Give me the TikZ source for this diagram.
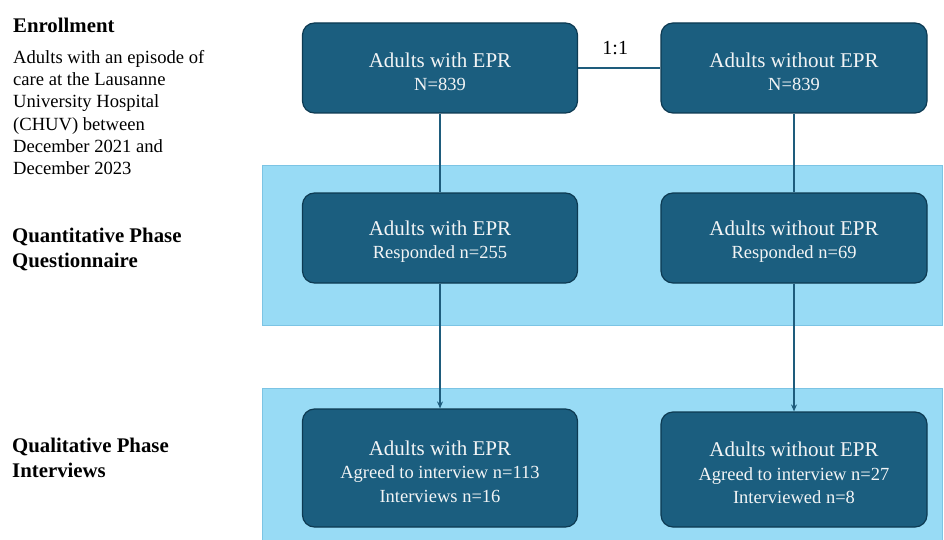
\documentclass[tikz,border=0pt]{standalone}
\usepackage{fontspec}
\setmainfont{Liberation Serif}
\usetikzlibrary{arrows.meta}
\definecolor{boxfill}{HTML}{1B5E7F}
\definecolor{boxline}{HTML}{0D3A52}
\definecolor{bandfill}{HTML}{98DBF5}
\definecolor{bandline}{HTML}{7CC4E4}
\definecolor{conn}{HTML}{1E5C7C}
\definecolor{boxtext}{HTML}{F2F4F5}
\newcommand{\ttl}[1]{\rule{0pt}{22pt}{\fontsize{21}{23}\selectfont #1}}
\begin{document}
\begin{tikzpicture}[x=1pt,y=-1pt,
  band/.style={fill=bandfill,draw=bandline,line width=1pt},
  flowbox/.style={rectangle,rounded corners=12pt,fill=boxfill,draw=boxline,line width=1.2pt,
    text=boxtext,align=center,inner sep=0pt,font=\fontsize{18.5}{23.5}\selectfont},
  wbox/.style={flowbox,minimum width=275pt},
  nbox/.style={flowbox,minimum width=266pt},
  conline/.style={draw=conn,line width=1.1pt},
  arr/.style={conline,-{Stealth[length=7pt,width=6pt]}},
  heading/.style={anchor=north west,inner sep=0pt,font=\fontsize{20.8}{24.5}\selectfont\bfseries,align=left},
  body/.style={anchor=north west,inner sep=0pt,font=\fontsize{18.6}{22.3}\selectfont,align=left}]
\useasboundingbox (0,0) rectangle (944,540);
\fill[white] (0,0) rectangle (944,540);
% bands
\path[band] (262,166) rectangle (942,325);
\path[band] (262,388) rectangle (942,542);
% left labels
\node[heading] (enr) at (13,18) {Enrollment};
\node[body] (enrtxt) at (13,50) {Adults with an episode of\\care at the Lausanne\\University Hospital\\(CHUV) between\\December 2021 and\\December 2023};
\node[heading] (quant) at (12,228) {Quantitative Phase\\Questionnaire};
\node[heading] (qual) at (12,438) {Qualitative Phase\\Interviews};
% boxes
\node[wbox,minimum height=90pt] (a1) at (440,68) {\ttl{Adults with EPR}\\N=839};
\node[nbox,minimum height=90pt] (b1) at (794,68) {\ttl{Adults without EPR}\\N=839};
\node[wbox,minimum height=90pt] (a2) at (440,238) {\ttl{Adults with EPR}\\Responded n=255};
\node[nbox,minimum height=90pt] (b2) at (794,238) {\ttl{Adults without EPR}\\Responded n=69};
\node[wbox,minimum height=118pt] (a3) at (440,468) {\ttl{Adults with EPR}\\Agreed to interview n=113\\Interviews n=16};
\node[nbox,minimum height=115pt] (b3) at (794,469.5) {\ttl{Adults without EPR}\\Agreed to interview n=27\\Interviewed n=8};
% connectors
\draw[conline] (a1.east) -- node[above=13pt,xshift=-4pt,inner sep=0pt,font=\fontsize{20}{22}\selectfont] (ratio) {1:1} (b1.west);
\draw[conline] (a1.south) -- (a2.north);
\draw[conline] (b1.south) -- (b2.north);
\draw[arr] (a2.south) -- (a3.north);
\draw[arr] (b2.south) -- (b3.north);
\end{tikzpicture}
\end{document}
